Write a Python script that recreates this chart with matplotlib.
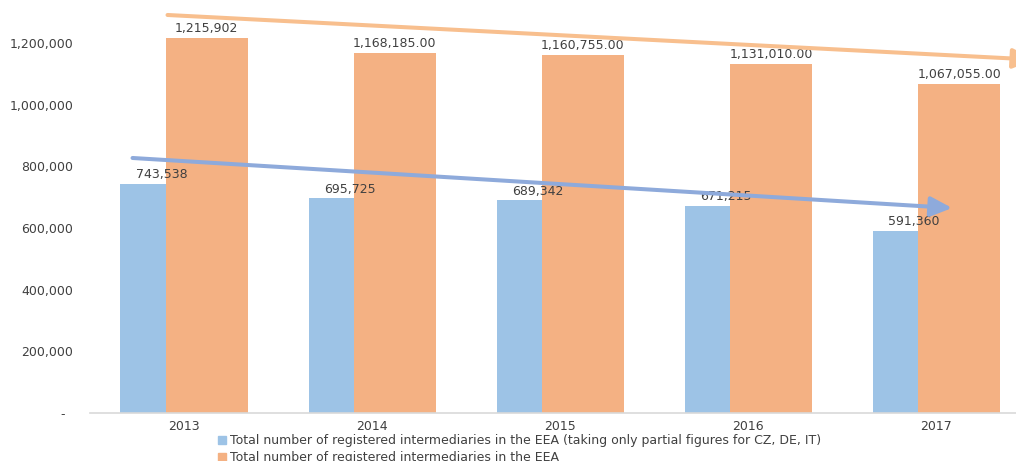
import matplotlib
matplotlib.use("Agg")
import matplotlib.pyplot as plt
from matplotlib.patches import Patch, FancyArrowPatch
from matplotlib.ticker import FuncFormatter

years = ["2013", "2014", "2015", "2016", "2017"]
partial = [743538, 695725, 689342, 671215, 591360]
total = [1215902, 1168185, 1160755, 1131010, 1067055]
partial_labels = ["743,538", "695,725", "689,342", "671,215", "591,360"]
total_labels = ["1,215,902", "1,168,185.00", "1,160,755.00", "1,131,010.00", "1,067,055.00"]
legend_labels = [
    "Total number of registered intermediaries in the EEA (taking only partial figures for CZ, DE, IT)",
    "Total number of registered intermediaries in the EEA",
]

BLUE = "#9DC3E6"
ORANGE = "#F4B183"
BLUE_ARROW = "#8EAADB"
ORANGE_ARROW = "#F8BF8E"
TXT = "#404040"

fig = plt.figure(figsize=(10.16, 4.61), dpi=100)
ax = fig.add_axes([0.0886, 0.1041, 0.9257, 0.9365])

x = list(range(len(years)))
w = 0.436
off = 0.12
xb = [i - off for i in x]
xo = [i + off for i in x]
ax.bar(xb, partial, width=w, color=BLUE, zorder=1)
ax.bar(xo, total, width=w, color=ORANGE, zorder=2)

for xi, v, s in zip(xb, partial, partial_labels):
    ax.annotate(s, (xi, v), xytext=(0, 2), textcoords="offset points",
                ha="center", va="bottom", fontsize=9, color=TXT, zorder=3)
for xi, v, s in zip(xo, total, total_labels):
    ax.annotate(s, (xi, v), xytext=(0, 2), textcoords="offset points",
                ha="center", va="bottom", fontsize=9, color=TXT, zorder=3)

# trend arrows
orange_arrow = ((-0.088, 1290700), (4.52, 1146000))
blue_arrow = ((-0.274, 827000), (4.083, 664800))
for (p0, p1), c in ((orange_arrow, ORANGE_ARROW), (blue_arrow, BLUE_ARROW)):
    arr = FancyArrowPatch(p0, p1, arrowstyle="-|>,head_length=13,head_width=6",
                          mutation_scale=1, lw=2.9, color=c, zorder=4,
                          shrinkA=0, shrinkB=0, clip_on=False)
    ax.add_patch(arr)

ax.set_xlim(-0.5, 4.5)
ax.set_ylim(0, 1400000)
ax.set_yticks([0, 200000, 400000, 600000, 800000, 1000000, 1200000])
ax.yaxis.set_major_formatter(FuncFormatter(lambda v, p: "-  " if v == 0 else f"{int(v):,}"))
ax.set_xticks(x)
ax.set_xticklabels(years)
ax.tick_params(axis="both", length=0, labelsize=9, labelcolor=TXT)
ax.tick_params(axis="y", pad=12)
ax.tick_params(axis="x", pad=5)
for s in ["top", "right", "left"]:
    ax.spines[s].set_visible(False)
ax.spines["bottom"].set_color("#D9D9D9")
ax.spines["bottom"].set_linewidth(1.2)

handles = [Patch(color=BLUE), Patch(color=ORANGE)]
fig.legend(handles, legend_labels, loc="upper left", bbox_to_anchor=(0.215, 0.058),
           frameon=False, fontsize=9, handlelength=0.6, handleheight=0.6,
           handletextpad=0.3, labelspacing=0.3, borderpad=0, borderaxespad=0,
           labelcolor=TXT)

fig.savefig("out.png", dpi=100)
